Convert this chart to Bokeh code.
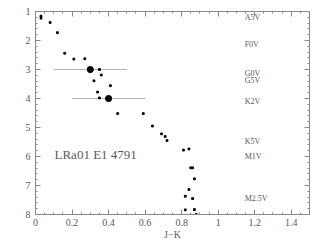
from bokeh.plotting import figure
from bokeh.models import (Range1d, LinearAxis, SingleIntervalTicker, NumeralTickFormatter,
                          CustomJSTickFormatter, Label, ColumnDataSource)
from bokeh.embed import file_html
from bokeh.resources import INLINE
from bokeh.core.properties import value

# --- data ---
star_jk = [0.03, 0.03, 0.08, 0.12, 0.16, 0.21, 0.27, 0.35, 0.36, 0.32, 0.41, 0.34, 0.35,
           0.45, 0.59, 0.64, 0.69, 0.71, 0.72, 0.81, 0.84, 0.85, 0.86, 0.87, 0.84, 0.82,
           0.86, 0.82, 0.87, 0.88]
star_mj = [1.16, 1.23, 1.38, 1.73, 2.44, 2.64, 2.63, 3.00, 3.19, 3.39, 3.56, 3.78, 3.98,
           4.52, 4.52, 4.95, 5.22, 5.31, 5.45, 5.78, 5.74, 6.39, 6.39, 6.77, 7.14, 7.37,
           7.45, 7.84, 7.83, 8.00]
obj_jk = [0.30, 0.40]
obj_mj = [3.00, 4.00]
obj_jk_err = [0.20, 0.20]
sp_types = ["A5V", "F0V", "G0V", "G5V", "K2V", "K5V", "M1V", "M2.5V"]
sp_mj = [1.22, 2.13, 3.15, 3.38, 4.12, 5.49, 6.01, 7.45]
sp_jk = 1.145
title_text = "LRa01 E1 4791"

FONT = "Liberation Serif"
TXT = "#5a5a5a"
FRAME = "#8a8a8a"

p = figure(width=318, height=242, output_backend="svg", toolbar_location=None,
           x_range=Range1d(0, 1.5), y_range=Range1d(8, 1),
           min_border_left=35, min_border_right=9, min_border_top=11, min_border_bottom=27,
           x_axis_location=None, y_axis_location=None)
p.grid.visible = False
p.outline_line_color = FRAME
p.outline_line_width = 1
p.background_fill_color = "white"
p.border_fill_color = "white"

def style_axis(ax, labels=True):
    ax.axis_line_color = FRAME
    ax.major_tick_line_color = FRAME
    ax.minor_tick_line_color = FRAME
    ax.major_tick_in = 5
    ax.major_tick_out = 0
    ax.minor_tick_in = 2
    ax.minor_tick_out = 0
    ax.major_label_text_font = FONT
    ax.major_label_text_color = TXT
    ax.major_label_text_font_size = "10px"
    if not labels:
        ax.formatter = CustomJSTickFormatter(code="return ''")
        ax.major_label_standoff = 0

xt = lambda: SingleIntervalTicker(interval=0.2, num_minor_ticks=4)
yt = lambda: SingleIntervalTicker(interval=1, num_minor_ticks=5)

xb = LinearAxis(ticker=xt(), formatter=NumeralTickFormatter(format="0.[0]"))
style_axis(xb)
xb.major_label_standoff = 4
xb.axis_label = "J\u2212K"
xb.axis_label_text_font = FONT
xb.axis_label_text_font_style = "normal"
xb.axis_label_text_font_size = "10px"
xb.axis_label_text_color = TXT
xb.axis_label_standoff = 0
p.add_layout(xb, "below")

xa = LinearAxis(ticker=xt())
style_axis(xa, labels=False)
p.add_layout(xa, "above")

yl = LinearAxis(ticker=yt())
style_axis(yl)
yl.major_label_standoff = 5
p.add_layout(yl, "left")

yr = LinearAxis(ticker=yt())
style_axis(yr, labels=False)
p.add_layout(yr, "right")

# error bars
p.segment(x0=[a - e for a, e in zip(obj_jk, obj_jk_err)], y0=obj_mj,
          x1=[a + e for a, e in zip(obj_jk, obj_jk_err)], y1=obj_mj,
          line_color="#b4b4b4", line_width=1)

# main sequence points
p.scatter(star_jk, star_mj, marker="square", size=1.8, color="black")
# object points
p.scatter(obj_jk, obj_mj, marker="circle", size=6.2, color="black")

# spectral type labels
src = ColumnDataSource(dict(x=[sp_jk] * len(sp_types), y=sp_mj, t=sp_types))
p.text(x="x", y="y", text="t", source=src, text_font=value(FONT), text_font_size="8px",
       text_color=TXT, text_baseline="middle", text_align="left")

p.add_layout(Label(x=0.104, y=5.92, text=title_text, text_font=FONT, text_font_size="13px",
                   text_color=TXT, text_baseline="middle", text_align="left"))

# y-axis label M_J (outside frame)
p.add_layout(Label(x=-0.14, y=4.3, text="M", text_font=FONT, text_font_size="10px",
                   text_color=TXT, angle=90, angle_units="deg",
                   text_baseline="middle", text_align="center"))
p.add_layout(Label(x=-0.125, y=4.02, text="J", text_font=FONT, text_font_size="7px",
                   text_color=TXT, angle=90, angle_units="deg",
                   text_baseline="middle", text_align="center"))

open("out.html", "w").write(file_html(p, INLINE))
